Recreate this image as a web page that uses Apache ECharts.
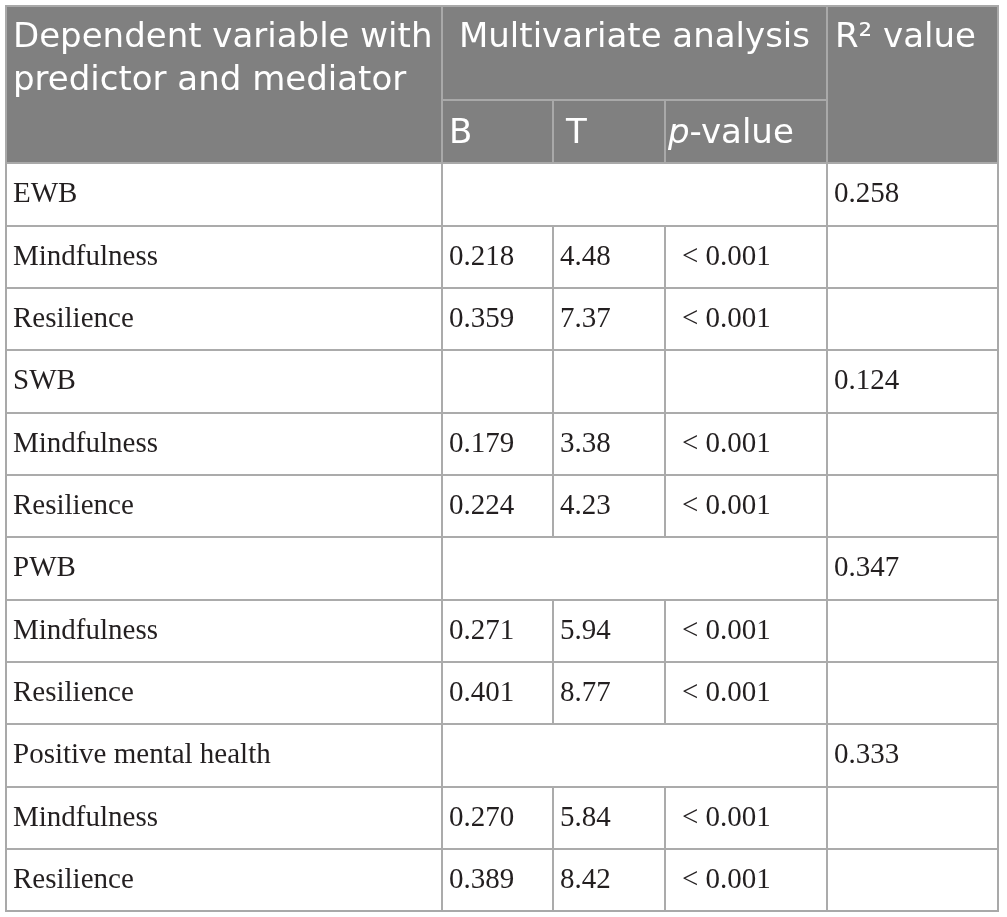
<!DOCTYPE html>
<html>
<head>
<meta charset="utf-8">
<script src="https://cdn.jsdelivr.net/npm/echarts@6/dist/echarts.min.js"></script>
<style>
  html, body { margin: 0; padding: 0; background: #ffffff; }
  #chart { width: 1007px; height: 917px; }
</style>
</head>
<body>
<div id="chart"></div>
<script>
// ---- Data ----
const firstHeader = 'Dependent variable with predictor and mediator';
const groupHeader = 'Multivariate analysis';
const subHeaders = ['B', 'T', 'p-value'];
const lastHeader = 'R² value';

const rowLabels = ['EWB', 'Mindfulness', 'Resilience', 'SWB', 'Mindfulness', 'Resilience',
  'PWB', 'Mindfulness', 'Resilience', 'Positive mental health', 'Mindfulness', 'Resilience'];
const bValues = ['', '0.218', '0.359', '', '0.179', '0.224', '', '0.271', '0.401', '', '0.270', '0.389'];
const tValues = ['', '4.48', '7.37', '', '3.38', '4.23', '', '5.94', '8.77', '', '5.84', '8.42'];
const pValues = ['', '< 0.001', '< 0.001', '', '< 0.001', '< 0.001', '', '< 0.001', '< 0.001', '', '< 0.001', '< 0.001'];
const r2Values = ['0.258', '', '', '0.124', '', '', '0.347', '', '', '0.333', '', ''];
const mergedAnalysisRows = ['EWB', 'PWB', 'Positive mental health'];

// ---- Build option ----
const HEADER_FONT = '"DejaVu Sans", "Open Sans", sans-serif';
const BODY_FONT = '"Liberation Serif", "DejaVu Serif", serif';
const headerLabel = { color: '#ffffff', fontFamily: HEADER_FONT, fontSize: 34, overflow: 'none' };
const bodyLabel = { color: '#231f20', fontFamily: BODY_FONT, fontSize: 29, padding: [8, 0, 0, 0] };

// wrap the long header after "with", as in the reference
const firstHeaderText = firstHeader.replace(' predictor', '\npredictor');

const subWidths = [111, 112, 162];
const subDistances = [7, 13, 3];
const xData = [
  {
    value: firstHeaderText,
    size: 436,
    label: Object.assign({}, headerLabel, { position: 'insideTopLeft', distance: 6, offset: [-2, 3], lineHeight: 43, align: 'left' })
  },
  {
    value: groupHeader,
    children: subHeaders.map((h, i) => ({
      value: h === 'p-value' ? '{i|p}-value' : h,
      size: subWidths[i],
      label: Object.assign({}, headerLabel, {
        position: 'insideLeft', distance: subDistances[i], lineHeight: 53, padding: [8, 0, 0, 0],
        rich: { i: { fontStyle: 'italic', color: '#ffffff', fontFamily: HEADER_FONT, fontSize: 34, lineHeight: 53 } }
      })
    })),
    label: Object.assign({}, headerLabel, { position: 'insideTop', distance: 9, lineHeight: 43 })
  },
  {
    value: lastHeader,
    size: 171,
    label: Object.assign({}, headerLabel, { position: 'insideTopLeft', distance: 6, offset: [-1, 3], lineHeight: 43, align: 'left' })
  }
];

const bodyData = [];
rowLabels.forEach((name, i) => {
  bodyData.push({ coord: [0, i], value: name });
  if (mergedAnalysisRows.indexOf(name) >= 0) {
    bodyData.push({ coord: [[1, 3], i], mergeCells: true, value: '' });
  } else {
    bodyData.push({ coord: [1, i], value: bValues[i] });
    bodyData.push({ coord: [2, i], value: tValues[i] });
    bodyData.push({ coord: [3, i], value: pValues[i], label: { distance: 17 } });
  }
  bodyData.push({ coord: [4, i], value: r2Values[i] });
});

const option = {
  backgroundColor: '#ffffff',
  matrix: {
    left: 6,
    top: 6,
    width: 992,
    height: 905,
    x: {
      show: true,
      data: xData,
      levels: [{ levelSize: 94 }, { levelSize: 63 }],
      itemStyle: { color: '#808080', borderColor: '#a9a9a9', borderWidth: 2 },
      label: headerLabel,
      dividerLineStyle: { color: '#a9a9a9', width: 2 }
    },
    y: {
      show: false,
      data: rowLabels.map((_, i) => String(i))
    },
    body: {
      data: bodyData,
      itemStyle: { color: '#ffffff', borderColor: '#ababab', borderWidth: 2 },
      label: Object.assign({}, bodyLabel, { position: 'insideLeft', distance: 7 })
    },
    backgroundStyle: { color: '#ffffff', borderColor: '#a9a9a9', borderWidth: 2 }
  }
};

const chart = echarts.init(document.getElementById('chart'), null, { renderer: 'canvas' });
chart.setOption(option);
</script>
</body>
</html>
